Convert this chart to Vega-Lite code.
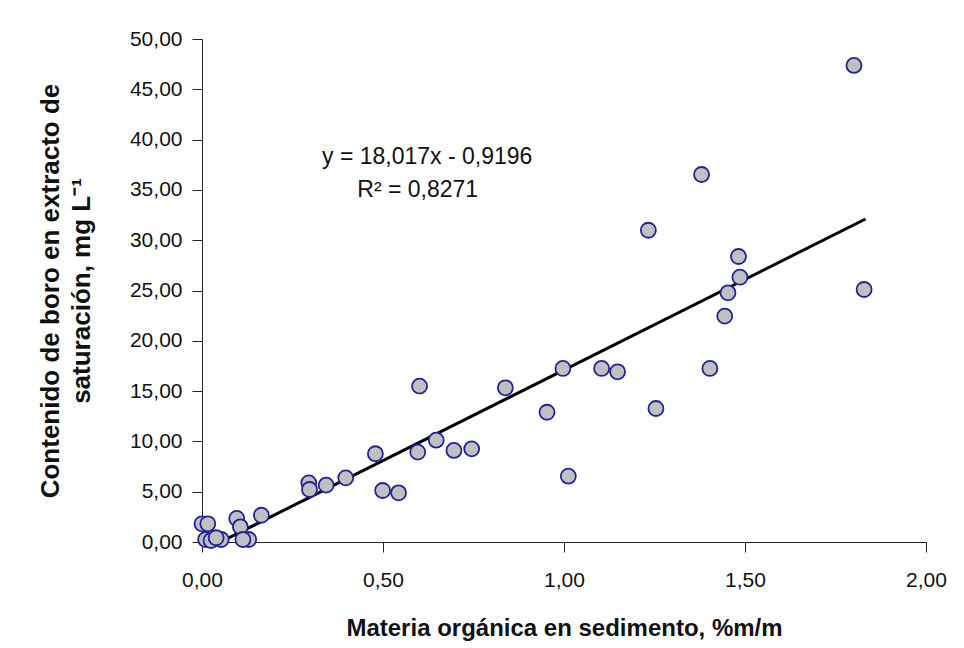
{
  "$schema": "https://vega.github.io/schema/vega-lite/v6.json",
  "width": 724,
  "height": 503,
  "autosize": {"type": "none"},
  "padding": {"left": 202, "top": 39, "right": 38, "bottom": 106},
  "background": "white",
  "config": {
    "view": {"stroke": null},
    "font": "Liberation Sans",
    "axis": {
      "grid": false,
      "domainColor": "#222222",
      "tickColor": "#222222",
      "tickSize": 10,
      "labelFlush": false,
      "labelFont": "Liberation Sans",
      "labelFontSize": 21,
      "labelColor": "#111111",
      "titleFont": "Liberation Sans",
      "titleFontWeight": "bold",
      "titleColor": "#111111"
    }
  },
  "datasets": {
    "points": [
      {"mo": 1.801, "boro": 47.37},
      {"mo": 1.380, "boro": 36.53},
      {"mo": 1.233, "boro": 30.99},
      {"mo": 1.482, "boro": 28.38},
      {"mo": 1.486, "boro": 26.32},
      {"mo": 1.453, "boro": 24.77},
      {"mo": 1.829, "boro": 25.10},
      {"mo": 1.444, "boro": 22.45},
      {"mo": 1.403, "boro": 17.25},
      {"mo": 1.254, "boro": 13.27},
      {"mo": 1.104, "boro": 17.25},
      {"mo": 1.148, "boro": 16.92},
      {"mo": 0.997, "boro": 17.25},
      {"mo": 0.838, "boro": 15.33},
      {"mo": 0.953, "boro": 12.90},
      {"mo": 1.012, "boro": 6.54},
      {"mo": 0.601, "boro": 15.49},
      {"mo": 0.647, "boro": 10.12},
      {"mo": 0.596, "boro": 8.93},
      {"mo": 0.696, "boro": 9.10},
      {"mo": 0.745, "boro": 9.26},
      {"mo": 0.479, "boro": 8.77},
      {"mo": 0.397, "boro": 6.38},
      {"mo": 0.343, "boro": 5.65},
      {"mo": 0.295, "boro": 5.88},
      {"mo": 0.297, "boro": 5.22},
      {"mo": 0.499, "boro": 5.12},
      {"mo": 0.543, "boro": 4.89},
      {"mo": 0.164, "boro": 2.66},
      {"mo": 0.096, "boro": 2.34},
      {"mo": 0.106, "boro": 1.51},
      {"mo": 0.129, "boro": 0.25},
      {"mo": 0.113, "boro": 0.25},
      {"mo": 0.000, "boro": 1.81},
      {"mo": 0.016, "boro": 1.81},
      {"mo": 0.010, "boro": 0.25},
      {"mo": 0.025, "boro": 0.15},
      {"mo": 0.053, "boro": 0.25},
      {"mo": 0.039, "boro": 0.42}
    ],
    "trend": [
      {"mo": 0.051, "boro": 0.0},
      {"mo": 1.833, "boro": 32.11}
    ],
    "notes": [
      {"label": "y = 18,017x - 0,9196", "lx": 0.622, "ly": 38.3},
      {"label": "R² = 0,8271", "lx": 0.596, "ly": 35.0}
    ]
  },
  "layer": [
    {
      "data": {"name": "trend"},
      "mark": {"type": "line", "color": "black", "strokeWidth": 3, "clip": true},
      "encoding": {
        "x": {"field": "mo", "type": "quantitative"},
        "y": {"field": "boro", "type": "quantitative"}
      }
    },
    {
      "data": {"name": "points"},
      "mark": {"type": "point", "shape": "circle", "filled": true, "fill": "#c0c0c0", "stroke": "#22229a", "strokeWidth": 1.8, "size": 225, "opacity": 1},
      "encoding": {
        "x": {
          "field": "mo",
          "type": "quantitative",
          "scale": {"domain": [0, 2], "nice": false},
          "axis": {
            "title": "Materia orgánica en sedimento, %m/m",
            "titleFontSize": 24,
            "values": [0, 0.5, 1, 1.5, 2],
            "format": ".2f",
            "labelExpr": "replace(datum.label, '.', ',')",
            "labelPadding": 17,
            "titlePadding": 26
          }
        },
        "y": {
          "field": "boro",
          "type": "quantitative",
          "scale": {"domain": [0, 50], "nice": false},
          "axis": {
            "title": ["Contenido de boro en extracto de", "saturación, mg L⁻¹"],
            "titleFontSize": 26,
            "titleLineHeight": 31,
            "values": [0, 5, 10, 15, 20, 25, 30, 35, 40, 45, 50],
            "format": ".2f",
            "labelExpr": "replace(datum.label, '.', ',')",
            "labelPadding": 10,
            "titlePadding": 35
          }
        }
      }
    },
    {
      "data": {"name": "notes"},
      "mark": {"type": "text", "fontSize": 23, "color": "#111111", "align": "center", "baseline": "middle"},
      "encoding": {
        "x": {"field": "lx", "type": "quantitative"},
        "y": {"field": "ly", "type": "quantitative"},
        "text": {"field": "label"}
      }
    }
  ]
}
